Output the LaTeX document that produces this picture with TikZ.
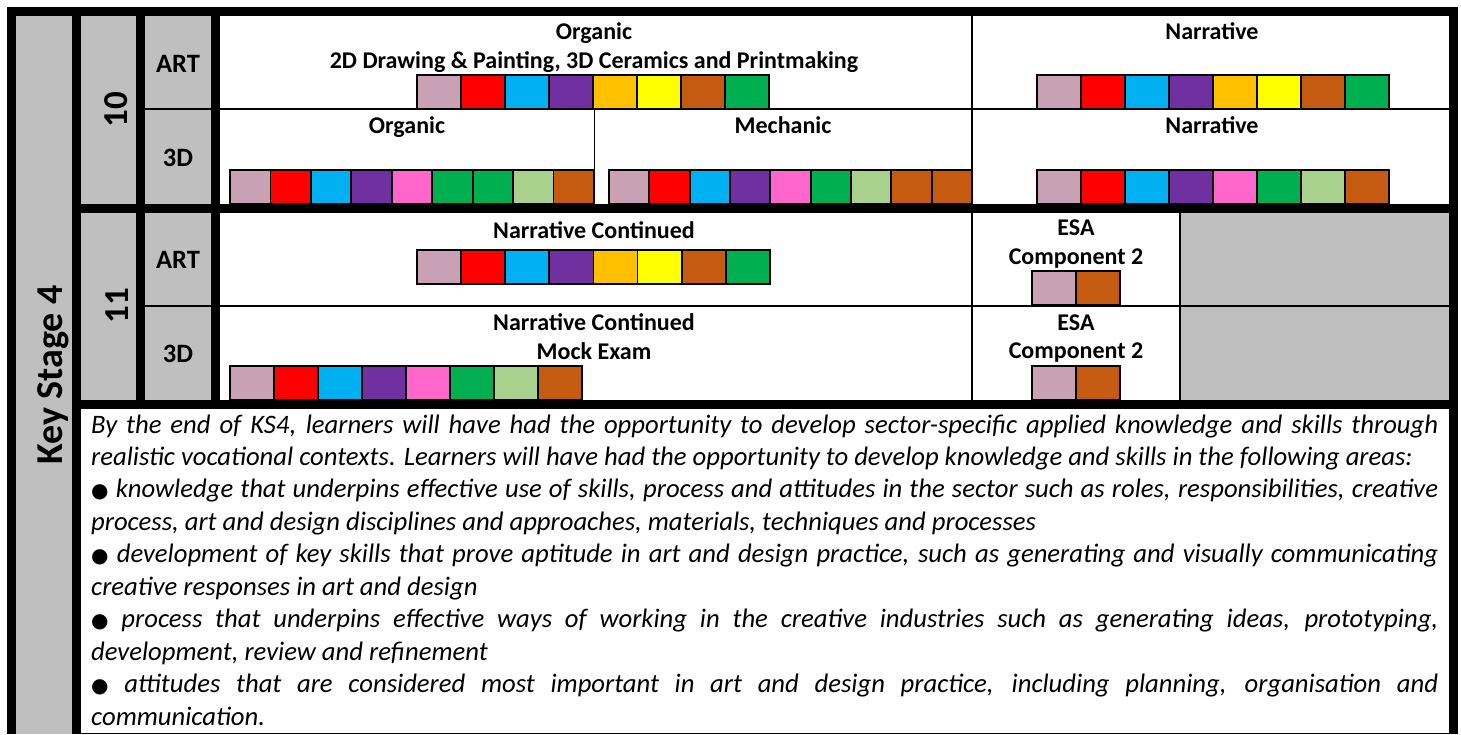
\documentclass[tikz,border=0pt]{standalone}
\usepackage{fontspec}
\setmainfont{Carlito}
\newfontfamily\dejavu{DejaVu Sans}
\definecolor{cgray}{HTML}{BFBFBF}
\definecolor{cmauve}{HTML}{C8A2B4}
\definecolor{cred}{HTML}{FF0000}
\definecolor{ccyan}{HTML}{00B0F0}
\definecolor{cpurple}{HTML}{7030A0}
\definecolor{camber}{HTML}{FFC000}
\definecolor{cyellow}{HTML}{FFFF00}
\definecolor{cbrown}{HTML}{C55A11}
\definecolor{cgreen}{HTML}{00B050}
\definecolor{cpink}{HTML}{FF66CC}
\definecolor{clgreen}{HTML}{A9D18E}
\newcommand\colorstrip[5]{%
  \foreach \c [count=\i from 0] in {#5} {
    \draw[sq, fill=\c] ({#1+\i*#3},#2) rectangle ({#1+(\i+1)*#3},{#2+#4});
  }%
}
\newcommand\bul{{\dejavu\upshape\fontsize{20}{22}\selectfont ●}}
\tikzset{
  sq/.style={draw=black, line width=1.8pt},
  lbl/.style={font=\fontsize{26.5}{30}\selectfont\bfseries, inner sep=0, anchor=base},
  yr/.style={font=\fontsize{35}{40}\selectfont\bfseries, inner sep=0, anchor=base, rotate=90},
  head/.style={font=\fontsize{24}{28}\selectfont\bfseries, inner sep=0, anchor=base},
  body/.style={font=\fontsize{26.67}{32}\selectfont\itshape, inner sep=0, anchor=base west},
}
\begin{document}
\begin{tikzpicture}[x=1pt,y=-1pt]
\useasboundingbox (0,0) rectangle (1461,734);
\fill[white] (0,0) rectangle (1461,734);
\fill[black] (7,7) rectangle (1458,734);
% gray label columns
\fill[cgray] (16,16) rectangle (72,734);
\fill[cgray] (81,16) rectangle (136,204);
\fill[cgray] (81,213) rectangle (136,400);
\fill[cgray] (145,16) rectangle (211,108.3);
\fill[cgray] (145,109.9) rectangle (211,204);
\fill[cgray] (145,213) rectangle (211,305);
\fill[cgray] (145,306.6) rectangle (211,400);
% content cells
\fill[white] (220,16) rectangle (971.2,108.3);
\fill[white] (972.8,16) rectangle (1449,108.3);
\fill[white] (220,109.9) rectangle (593.6,204);
\fill[white] (595.2,109.9) rectangle (971.2,204);
\fill[white] (972.8,109.9) rectangle (1449,204);
\fill[white] (220,213) rectangle (971.2,305);
\fill[white] (972.8,213) rectangle (1179.2,305);
\fill[cgray] (1180.8,213) rectangle (1449,305);
\fill[white] (220,306.6) rectangle (971.2,400);
\fill[white] (972.8,306.6) rectangle (1179.2,400);
\fill[cgray] (1180.8,306.6) rectangle (1449,400);
\fill[white] (81,409) rectangle (1449,732.6);

% labels
\node[font=\fontsize{38}{44}\selectfont\bfseries, inner sep=0, anchor=base, rotate=90] (ks) at (62.7,375) {Key Stage 4};
\node[yr] (y10) at (127,109.5) {10};
\node[yr] (y11) at (128,305.6) {11};
\node[lbl] (art10) at (178,72) {ART};
\node[lbl] (d10) at (178,166) {3D};
\node[lbl] (art11) at (178,268) {ART};
\node[lbl] (d11) at (178,362) {3D};

% headings
\node[head] (h1a) at (594,39) {Organic};
\node[head] (h1b) at (594,68) {2D Drawing \& Painting, 3D Ceramics and Printmaking};
\node[head] (h2) at (1212,39) {Narrative};
\node[head] (h3) at (407,133) {Organic};
\node[head] (h4) at (783,133) {Mechanic};
\node[head] (h5) at (1212,133) {Narrative};
\node[head] (h6) at (594,238) {Narrative Continued};
\node[head] (h7a) at (594,330) {Narrative Continued};
\node[head] (h7b) at (594,359) {Mock Exam};
\node[head] (h8a) at (1076,235) {ESA};
\node[head] (h8b) at (1076,264) {Component 2};
\node[head] (h9a) at (1076,330) {ESA};
\node[head] (h9b) at (1076,358) {Component 2};

% colour strips
\colorstrip{417}{75}{44}{34}{cmauve,cred,ccyan,cpurple,camber,cyellow,cbrown,cgreen}
\colorstrip{1037}{75}{44}{34}{cmauve,cred,ccyan,cpurple,camber,cyellow,cbrown,cgreen}
\colorstrip{230}{170}{40.44}{34}{cmauve,cred,ccyan,cpurple,cpink,cgreen,cgreen,clgreen,cbrown}
\colorstrip{609}{170}{40.33}{34}{cmauve,cred,ccyan,cpurple,cpink,cgreen,clgreen,cbrown,cbrown}
\colorstrip{1037}{170}{44}{34}{cmauve,cred,ccyan,cpurple,cpink,cgreen,clgreen,cbrown}
\colorstrip{417}{250}{44.1}{34}{cmauve,cred,ccyan,cpurple,camber,cyellow,cbrown,cgreen}
\colorstrip{1032}{271}{44}{34}{cmauve,cbrown}
\colorstrip{230}{366}{44}{34}{cmauve,cred,ccyan,cpurple,cpink,cgreen,clgreen,cbrown}
\colorstrip{1032}{366}{44}{34}{cmauve,cbrown}

% body text
\node[body] (l1) at (91,433) {\makebox[1347pt][s]{By the end of KS4, learners will have had the opportunity to develop sector-specific applied knowledge and skills through}};
\node[body] (l2) at (91,465.4) {realistic vocational contexts. Learners will have had the opportunity to develop knowledge and skills in the following areas:};
\node[body] (l3) at (91,497.9) {\makebox[1347pt][s]{\bul{} knowledge that underpins effective use of skills, process and attitudes in the sector such as roles, responsibilities, creative}};
\node[body] (l4) at (91,530.3) {process, art and design disciplines and approaches, materials, techniques and processes};
\node[body] (l5) at (91,562.8) {\makebox[1347pt][s]{\bul{} development of key skills that prove aptitude in art and design practice, such as generating and visually communicating}};
\node[body] (l6) at (91,595.2) {creative responses in art and design};
\node[body] (l7) at (91,627.6) {\makebox[1347pt][s]{\bul{} process that underpins effective ways of working in the creative industries such as generating ideas, prototyping,}};
\node[body] (l8) at (91,660.1) {development, review and refinement};
\node[body] (l9) at (91,692.5) {\makebox[1347pt][s]{\bul{} attitudes that are considered most important in art and design practice, including planning, organisation and}};
\node[body] (l10) at (91,725) {communication.};
\end{tikzpicture}
\end{document}
